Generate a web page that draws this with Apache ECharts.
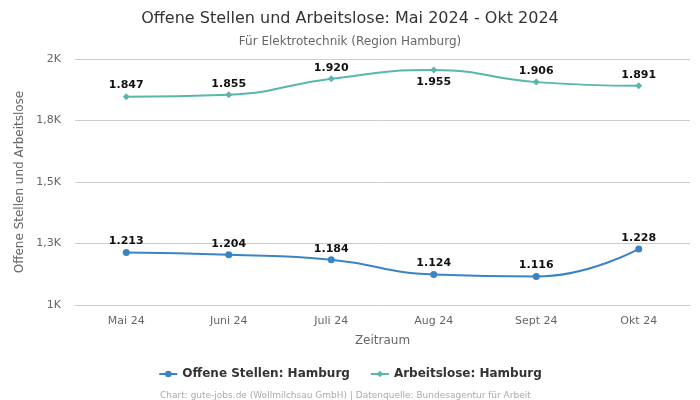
<!DOCTYPE html>
<html><head><meta charset="utf-8">
<script src="https://cdn.jsdelivr.net/npm/echarts@6/dist/echarts.min.js"></script>
<style>html,body{margin:0;padding:0;background:#fff}#c{width:700px;height:400px}</style>
</head><body><div id="c"></div>
<script>
var categories = ["Mai 24","Juni 24","Juli 24","Aug 24","Sept 24","Okt 24"];
var offeneStellen = [1213,1204,1184,1124,1116,1228];
var arbeitslose = [1847,1855,1920,1955,1906,1891];
var yTicks = [1000,1250,1500,1750,2000];

function de(n){return String(n).replace(/\B(?=(\d{3})+(?!\d))/g,'.');}
function kfmt(v){var r=Math.round(v/100)/10;return String(r).replace('.',',')+'K';}

var chart = echarts.init(document.getElementById('c'));
var font = 'DejaVu Sans';
chart.setOption({
  animation:false,
  textStyle:{fontFamily:font},
  title:[{text:'Offene Stellen und Arbeitslose: Mai 2024 - Okt 2024',left:'center',top:6,textStyle:{fontFamily:font,fontSize:16,fontWeight:'normal',color:'#333'}},
         {text:'Für Elektrotechnik (Region Hamburg)',left:'center',top:31,textStyle:{fontFamily:font,fontSize:12,fontWeight:'normal',color:'#666'}},
         {text:'Chart: gute-jobs.de (Wollmilchsau GmbH) | Datenquelle: Bundesagentur für Arbeit',left:155,top:386,textStyle:{fontFamily:font,fontSize:9,fontWeight:'normal',color:'#aaa'}}],
  legend:{bottom:15,itemGap:20,itemWidth:18,itemHeight:8,textStyle:{fontFamily:font,fontSize:12,fontWeight:'bold',color:'#333'},
    data:['Offene Stellen: Hamburg','Arbeitslose: Hamburg']},
  grid:{left:75,right:10,top:59,bottom:95},
  xAxis:{type:'category',data:categories,name:'Zeitraum',nameLocation:'middle',nameGap:30,
    nameTextStyle:{fontFamily:font,fontSize:12,color:'#666'},
    axisLine:{lineStyle:{color:'#ccc'}},axisTick:{show:false},
    axisLabel:{fontFamily:font,fontSize:11,color:'#666',margin:11}},
  yAxis:{type:'value',min:yTicks[0],max:yTicks[yTicks.length-1],interval:250,
    name:'Offene Stellen und Arbeitslose',nameLocation:'middle',nameGap:43,
    nameTextStyle:{fontFamily:font,fontSize:12,color:'#666'},
    axisLabel:{fontFamily:font,fontSize:11,color:'#666',margin:14,formatter:kfmt},
    splitLine:{lineStyle:{color:'#ccc'}}},
  series:[
    {name:'Offene Stellen: Hamburg',type:'line',smooth:true,data:offeneStellen,
     symbol:'circle',symbolSize:7,color:'#3a84c4',lineStyle:{width:2},
     label:{show:true,position:'top',distance:2,fontFamily:font,fontSize:11,fontWeight:'bold',color:'#111',formatter:function(p){return de(p.value);}}},
    {name:'Arbeitslose: Hamburg',type:'line',smooth:true,
     data:arbeitslose.map(function(v,i){return i===3?{value:v,label:{position:'bottom',distance:3}}:v;}),
     symbol:'diamond',symbolSize:7,color:'#5ab5ac',lineStyle:{width:2},
     label:{show:true,position:'top',distance:2,fontFamily:font,fontSize:11,fontWeight:'bold',color:'#111',formatter:function(p){return de(p.value);}}}
  ]
});
</script></body></html>
